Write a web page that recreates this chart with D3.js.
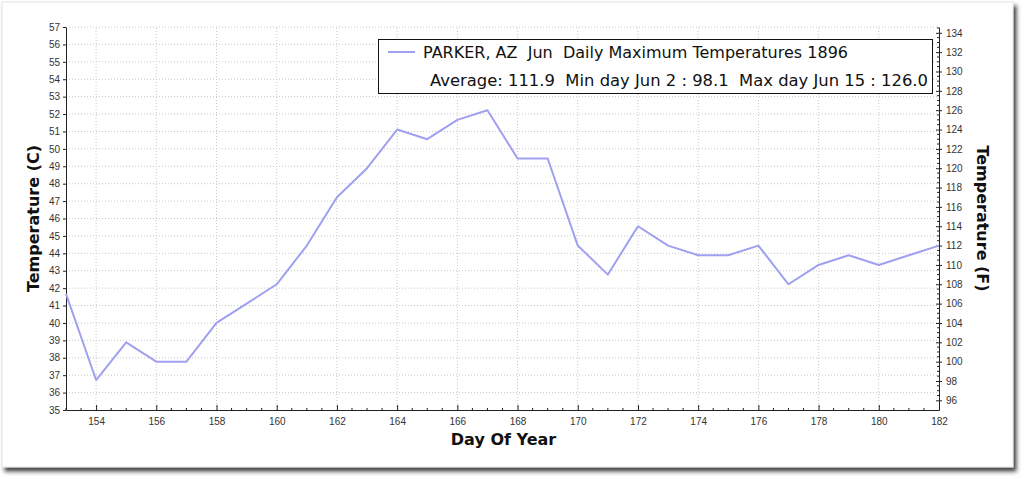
<!DOCTYPE html>
<html lang="en">
<head>
    <meta charset="UTF-8">
    <title>PARKER, AZ Jun Daily Maximum Temperatures 1896</title>
    <script src="https://cdnjs.cloudflare.com/ajax/libs/d3/7.8.5/d3.min.js"></script>
    <style>
        body { margin: 0; padding: 0; background: #fff; }
        svg { display: block; }
        .tick text { font-family: "Liberation Sans", Arial, sans-serif; font-size: 10px; fill: #333; }
        .axis path, .axis line { stroke: #222; }
        .grid line { stroke: #c8c8c8; stroke-dasharray: 1,2; }
        .title { font-family: "DejaVu Sans", sans-serif; font-weight: bold; font-size: 16px; fill: #111; }
        .legend text { font-family: "DejaVu Sans", sans-serif; font-size: 15px; fill: #111; white-space: pre; }
    </style>
</head>
<body>
<div id="chart"></div>
<script>
    // daily max temperatures, June 1896 (deg F), day of year 153..182
    const days = d3.range(153, 183);
    const tempsF = [107, 98.1, 102, 100, 100, 104, 106, 108, 112, 117,
                    120, 124, 123, 125, 126, 121, 121, 112, 109, 114,
                    112, 111, 111, 112, 108, 110, 111, 110, 111, 112];
    const legendLine1 = "PARKER, AZ  Jun  Daily Maximum Temperatures 1896";
    const legendLine2 = "Average: 111.9  Min day Jun 2 : 98.1  Max day Jun 15 : 126.0";

    const width = 1024, height = 479;
    const margin = { top: 27, right: 85, bottom: 69, left: 66 };
    const x0 = margin.left, x1 = width - margin.right;
    const y0 = height - margin.bottom, y1 = margin.top;

    const svg = d3.select("#chart").append("svg")
        .attr("width", width)
        .attr("height", height);

    // card + shadow
    const defs = svg.append("defs");
    defs.append("filter").attr("id", "shadow")
        .attr("x", "-5%").attr("y", "-5%").attr("width", "110%").attr("height", "115%")
        .append("feDropShadow")
        .attr("dx", 3).attr("dy", 4).attr("stdDeviation", 2)
        .attr("flood-color", "#222").attr("flood-opacity", 0.85);

    svg.append("rect")
        .attr("x", 2).attr("y", 2)
        .attr("width", 1011).attr("height", 465)
        .attr("fill", "#fff")
        .attr("stroke", "#e4e4e4")
        .attr("filter", "url(#shadow)");

    const x = d3.scaleLinear().domain([153, 182]).range([x0, x1]);
    const yC = d3.scaleLinear().domain([35, 57]).range([y0, y1]);
    const yF = d3.scaleLinear().domain([35 * 9 / 5 + 32, 57 * 9 / 5 + 32]).range([y0, y1]);

    // grid
    const grid = svg.append("g").attr("class", "grid");
    grid.selectAll(".h").data(d3.range(36, 58)).enter().append("line")
        .attr("x1", x0).attr("x2", x1)
        .attr("y1", d => yC(d)).attr("y2", d => yC(d));
    grid.selectAll(".v").data(d3.range(154, 182, 2)).enter().append("line")
        .attr("x1", d => x(d)).attr("x2", d => x(d))
        .attr("y1", y0).attr("y2", y1);

    // minor ticks
    const minor = svg.append("g").attr("stroke", "#222");
    minor.selectAll(".mx").data(d3.range(153, 182.01, 0.5).filter(d => d % 2 !== 0)).enter().append("line")
        .attr("x1", d => x(d)).attr("x2", d => x(d))
        .attr("y1", y0).attr("y2", y0 - 2);
    minor.selectAll(".mf").data(d3.range(96, 134.6, 0.5).filter(d => d % 2 !== 0)).enter().append("line")
        .attr("x1", x1).attr("x2", x1 - 2)
        .attr("y1", d => yF(d)).attr("y2", d => yF(d));

    // axes
    svg.append("g").attr("class", "axis")
        .attr("transform", `translate(0,${y0})`)
        .call(d3.axisBottom(x).tickValues(d3.range(154, 183, 2)).tickFormat(d3.format("d"))
            .tickSizeInner(-5).tickSizeOuter(0).tickPadding(8));

    svg.append("g").attr("class", "axis")
        .attr("transform", `translate(${x0},0)`)
        .call(d3.axisLeft(yC).tickValues(d3.range(35, 58)).tickFormat(d3.format("d"))
            .tickSizeInner(3).tickSizeOuter(0).tickPadding(3));

    const rAxis = svg.append("g").attr("class", "axis")
        .attr("transform", `translate(${x1},0)`)
        .call(d3.axisRight(yF).tickValues(d3.range(96, 135, 2)).tickFormat(d3.format("d"))
            .tickSizeInner(3).tickSizeOuter(0).tickPadding(4));
    rAxis.selectAll(".tick line").attr("x1", -3);

    // line
    const line = d3.line()
        .x((d, i) => x(days[i]))
        .y(d => yF(d));

    svg.append("path")
        .datum(tempsF)
        .attr("fill", "none")
        .attr("stroke", "#a0a0f0")
        .attr("stroke-width", 2)
        .attr("stroke-linejoin", "round")
        .attr("d", line);

    // axis titles
    svg.append("text").attr("class", "title")
        .attr("x", (x0 + x1) / 2 + 1).attr("y", 445)
        .attr("text-anchor", "middle")
        .text("Day Of Year");

    svg.append("text").attr("class", "title")
        .attr("transform", `translate(39,${(y0 + y1) / 2}) rotate(-90)`)
        .attr("text-anchor", "middle")
        .text("Temperature (C)");

    svg.append("text").attr("class", "title")
        .attr("transform", `translate(977,${(y0 + y1) / 2}) rotate(90)`)
        .attr("text-anchor", "middle")
        .text("Temperature (F)");

    // legend
    const lg = svg.append("g").attr("class", "legend");
    lg.append("rect")
        .attr("x", 378.5).attr("y", 39.5)
        .attr("width", 554).attr("height", 54)
        .attr("fill", "#fff").attr("stroke", "#111");
    lg.append("line")
        .attr("x1", 388).attr("x2", 415)
        .attr("y1", 52).attr("y2", 52)
        .attr("stroke", "#a0a0f0").attr("stroke-width", 2);
    lg.append("text").attr("x", 423).attr("y", 58)
        .attr("textLength", 425).attr("lengthAdjust", "spacingAndGlyphs")
        .text(legendLine1);
    lg.append("text").attr("x", 430).attr("y", 86)
        .attr("textLength", 498).attr("lengthAdjust", "spacingAndGlyphs")
        .text(legendLine2);
</script>
</body>
</html>
